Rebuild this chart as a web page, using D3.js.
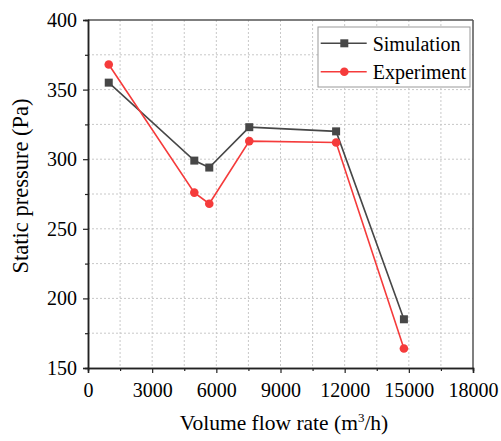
<!DOCTYPE html>
<html>
<head>
<meta charset="utf-8">
<script src="https://cdn.jsdelivr.net/npm/d3@7"></script>
</head>
<body style="margin:0">
<script>
// flow rate (m3/h)
const flowRate = [970, 4970, 5670, 7540, 11600, 14770];
const simulation = [355, 299, 294, 323, 320, 185];
const experiment = [368, 276, 268, 313, 312, 164];
const xTicks = [0, 3000, 6000, 9000, 12000, 15000, 18000];
const yTicks = [150, 200, 250, 300, 350, 400];

const FONT = "'Times New Roman', 'Liberation Serif'";
const W = 501, H = 441;
const margin = { top: 20, right: 28, bottom: 73, left: 88 };
const width = W - margin.left - margin.right,
  height = H - margin.top - margin.bottom;

const svg = d3.select("body").append("svg")
  .attr("width", W).attr("height", H)
  .style("font-family", FONT);
const g = svg.append("g")
  .attr("transform", "translate(" + margin.left + "," + margin.top + ")");

const x = d3.scaleLinear().domain([0, 18000]).range([0, width]);
const y = d3.scaleLinear().domain([150, 400]).range([height, 0]);

// grid lines at every minor step
const xGrid = d3.range(1500, 18000, 1500);
const yGrid = d3.range(175, 400, 25);
g.selectAll(".gx").data(xGrid).enter().append("line")
  .attr("x1", d => x(d)).attr("x2", d => x(d))
  .attr("y1", 0).attr("y2", height)
  .attr("stroke", "#c8c8c8").attr("stroke-dasharray", "2,2").attr("stroke-width", 1);
g.selectAll(".gy").data(yGrid).enter().append("line")
  .attr("x1", 0).attr("x2", width)
  .attr("y1", d => y(d)).attr("y2", d => y(d))
  .attr("stroke", "#c8c8c8").attr("stroke-dasharray", "2,2").attr("stroke-width", 1);

// frame top/right
g.append("line").attr("x1", 0).attr("x2", width).attr("y1", 0).attr("y2", 0)
  .attr("stroke", "#555").attr("stroke-width", 1.5);
g.append("line").attr("x1", width).attr("x2", width).attr("y1", 0).attr("y2", height)
  .attr("stroke", "#555").attr("stroke-width", 1.5);

// axes
const xAxis = g.append("g").attr("transform", "translate(0," + height + ")")
  .call(d3.axisBottom(x).tickValues(xTicks).tickSize(5).tickPadding(10).tickFormat(d3.format("d")));
const xMinor = g.append("g").attr("transform", "translate(0," + height + ")")
  .call(d3.axisBottom(x).tickValues(xGrid.filter(d => d % 3000 !== 0)).tickSize(3).tickFormat(""));
const yAxis = g.append("g")
  .call(d3.axisLeft(y).tickValues(yTicks).tickSize(5).tickPadding(6));
const yMinor = g.append("g")
  .call(d3.axisLeft(y).tickValues(yGrid.filter(d => d % 50 !== 0)).tickSize(3).tickFormat(""));

[xAxis, yAxis, xMinor, yMinor].forEach(a => {
  a.attr("font-family", null).attr("font-size", 20);
  a.select(".domain").attr("stroke", "#222").attr("stroke-width", 1.5);
  a.selectAll(".tick line").attr("stroke", "#222").attr("stroke-width", 1.2);
  a.selectAll("text").attr("fill", "#000");
});

// series
const series = [
  { name: "Simulation", values: simulation, color: "#474747", shape: "square" },
  { name: "Experiment", values: experiment, color: "#f53b3b", shape: "circle" }
];

const line = d3.line().x(d => x(d[0])).y(d => y(d[1]));

series.forEach(s => {
  const pts = flowRate.map((f, i) => [f, s.values[i]]);
  g.append("path").datum(pts)
    .attr("fill", "none").attr("stroke", s.color).attr("stroke-width", 1.6)
    .attr("d", line);
  if (s.shape === "square") {
    g.selectAll(".m-" + s.name).data(pts).enter().append("rect")
      .attr("x", d => x(d[0]) - 4).attr("y", d => y(d[1]) - 4)
      .attr("width", 8).attr("height", 8).attr("fill", s.color);
  } else {
    g.selectAll(".m-" + s.name).data(pts).enter().append("circle")
      .attr("cx", d => x(d[0])).attr("cy", d => y(d[1]))
      .attr("r", 4.3).attr("fill", s.color);
  }
});

// legend
const leg = svg.append("g").attr("transform", "translate(318,27)");
leg.append("rect").attr("width", 152).attr("height", 60)
  .attr("fill", "#fff").attr("stroke", "#999").attr("stroke-width", 1);
series.forEach((s, i) => {
  const cy = 16.3 + i * 28.4;
  leg.append("line").attr("x1", 2.7).attr("x2", 48.7).attr("y1", cy).attr("y2", cy)
    .attr("stroke", s.color).attr("stroke-width", 1.6);
  if (s.shape === "square") {
    leg.append("rect").attr("x", 22.3).attr("y", cy - 4).attr("width", 8).attr("height", 8).attr("fill", s.color);
  } else {
    leg.append("circle").attr("cx", 26.3).attr("cy", cy).attr("r", 4.3).attr("fill", s.color);
  }
  leg.append("text").attr("x", 54.7).attr("y", cy + 7.4)
    .attr("font-size", 20).text(s.name);
});

// axis titles
const xt = svg.append("text")
  .attr("x", 284).attr("y", 430)
  .attr("font-size", 21.5)
  .attr("text-anchor", "middle");
xt.append("tspan").text("Volume flow rate (m");
xt.append("tspan").attr("dy", -8).attr("font-size", 13).text("3");
xt.append("tspan").attr("dy", 8).text("/h)");

svg.append("text")
  .attr("transform", "translate(28,186) rotate(-90)")
  .attr("font-size", 22.5)
  .attr("text-anchor", "middle")
  .text("Static pressure (Pa)");
</script>
</body>
</html>
